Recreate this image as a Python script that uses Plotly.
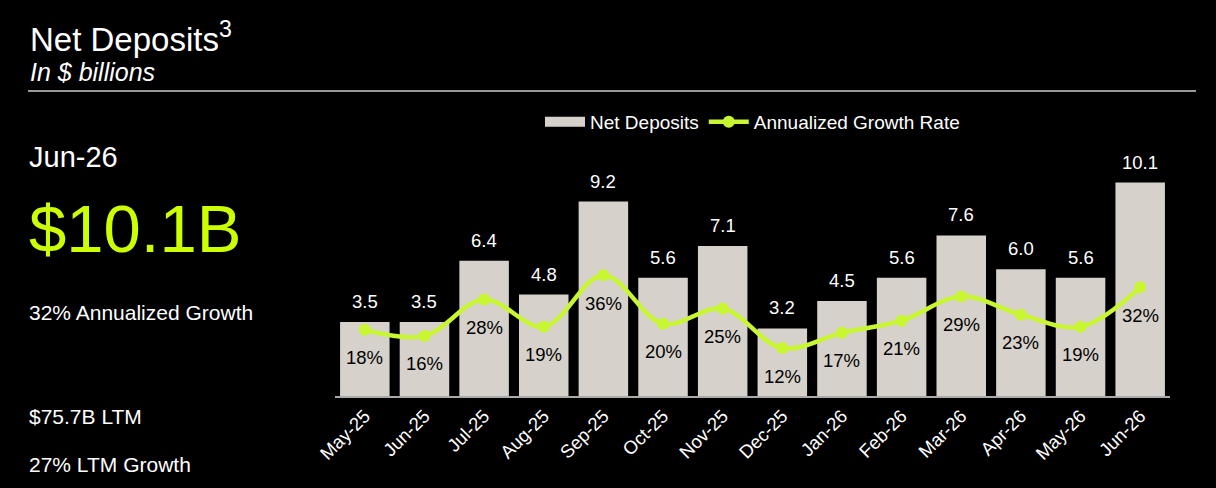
import plotly.graph_objects as go

months = ["May-25", "Jun-25", "Jul-25", "Aug-25", "Sep-25", "Oct-25", "Nov-25",
          "Dec-25", "Jan-26", "Feb-26", "Mar-26", "Apr-26", "May-26", "Jun-26"]
net_deposits = [3.5, 3.5, 6.4, 4.8, 9.2, 5.6, 7.1, 3.2, 4.5, 5.6, 7.6, 6.0, 5.6, 10.1]
growth_rate = [18, 16, 28, 19, 36, 20, 25, 12, 17, 21, 29, 23, 19, 32]

BAR = "#D6D2CB"
LIME = "#C8F732"
FONT = "Liberation Sans, Arial, sans-serif"

# plot area in pixels
L, R, T, B = 335, 46, 153, 92
PW, PH = 1216 - L - R, 488 - T - B


def px(x):
    return (x - L) / PW


def py(y):
    return 1 - (y - T) / PH


fig = go.Figure()

fig.add_trace(go.Bar(
    x=months, y=net_deposits, name="Net Deposits", showlegend=False,
    marker=dict(color=BAR, line=dict(width=0)),
))
# legend entry drawn as a wide swatch like the reference
fig.add_trace(go.Scatter(
    x=[None], y=[None], mode="lines", name="Net Deposits",
    line=dict(color=BAR, width=12),
))
fig.add_trace(go.Scatter(
    x=months, y=growth_rate, name="Annualized Growth Rate", yaxis="y2",
    mode="lines+markers",
    line=dict(color=LIME, width=4.5, shape="spline", smoothing=1),
    marker=dict(color=LIME, size=12),
    cliponaxis=False,
))

# value labels
for m, v in zip(months, net_deposits):
    fig.add_annotation(x=m, y=v, text=f"{v:.1f}", showarrow=False,
                       yanchor="bottom", yshift=8,
                       font=dict(size=18.5, color="white"))
for m, g in zip(months, growth_rate):
    fig.add_annotation(x=m, y=g, yref="y2", text=f"{g}%", showarrow=False,
                       yanchor="middle", yshift=-28,
                       font=dict(size=18.5, color="black"))

fig.update_layout(
    width=1216, height=488,
    paper_bgcolor="black", plot_bgcolor="black",
    font=dict(family=FONT, color="white", size=19),
    margin=dict(l=L, r=R, t=T, b=B),
    bargap=0.17,
    showlegend=True,
    legend=dict(orientation="h", x=0.5, xanchor="center", y=py(122), yanchor="middle",
                font=dict(size=19, color="white"), bgcolor="rgba(0,0,0,0)",
                itemwidth=40),
    xaxis=dict(range=[-0.5, len(months) - 0.5], tickangle=-45, showgrid=False,
               showline=True, linecolor="#AAAAAA", linewidth=2, ticks="",
               tickfont=dict(size=18.5, color="white")),
    yaxis=dict(range=[0, 11.5], visible=False, showgrid=False, zeroline=False),
    yaxis2=dict(range=[-3.78, 76.2], overlaying="y", visible=False,
                showgrid=False, zeroline=False),
)

# header and side panel text
fig.add_annotation(text="Net Deposits<sup>3</sup>", xref="paper", yref="paper",
                   x=px(28), y=py(37), xanchor="left", yanchor="middle",
                   showarrow=False, font=dict(size=33, color="white"))
fig.add_annotation(text="<i>In $ billions</i>", xref="paper", yref="paper",
                   x=px(28), y=py(72), xanchor="left", yanchor="middle",
                   showarrow=False, font=dict(size=25, color="white"))
fig.add_shape(type="line", xref="paper", yref="paper",
              x0=px(28), x1=px(1196), y0=py(91), y1=py(91),
              line=dict(color="#CCCCCC", width=1.5))

side = [
    ("Jun-26", 157, 29, "white"),
    ("$10.1B", 228, 67, "#CCFF00"),
    ("32% Annualized Growth", 312, 21, "white"),
    ("$75.7B LTM", 416, 21, "white"),
    ("27% LTM Growth", 464, 21, "white"),
]
for txt, ypx, size, color in side:
    fig.add_annotation(text=txt, xref="paper", yref="paper",
                       x=px(27), y=py(ypx),
                       xanchor="left", yanchor="middle", showarrow=False,
                       font=dict(size=size, color=color))

fig.write_html("out.html", config={"displayModeBar": False},
               post_script="document.body.style.margin='0';"
                           "document.body.style.background='black';")
